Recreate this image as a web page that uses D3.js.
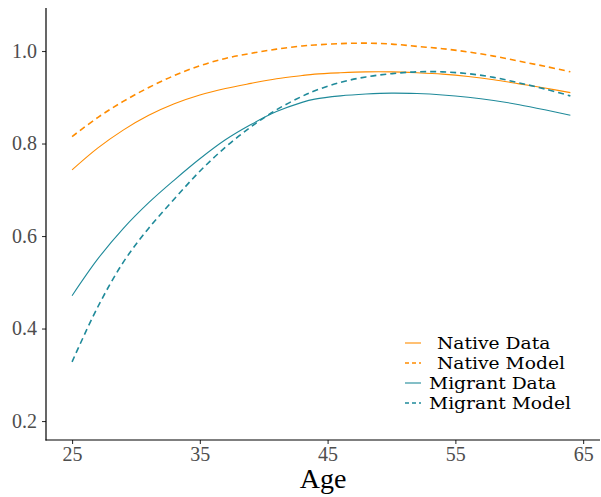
<!DOCTYPE html>
<html><head><meta charset="utf-8">
<script src="https://cdn.jsdelivr.net/npm/d3@7"></script>
<style>body{margin:0;background:#fff}svg{display:block}</style>
</head><body>
<svg id="c" width="601" height="497"></svg>
<script>
const ages = [25, 27, 29, 31, 33, 35, 37, 39, 41, 43, 44, 46, 48, 50, 52, 54, 56, 58, 60, 62, 64];
const nativeData   = [0.743, 0.790, 0.829, 0.861, 0.886, 0.905, 0.919, 0.930, 0.940, 0.947, 0.950, 0.953, 0.955, 0.955, 0.953, 0.950, 0.945, 0.938, 0.929, 0.920, 0.910];
const nativeModel  = [0.815, 0.856, 0.891, 0.921, 0.947, 0.968, 0.984, 0.995, 1.004, 1.011, 1.013, 1.016, 1.017, 1.015, 1.010, 1.005, 0.998, 0.989, 0.978, 0.967, 0.955];
const migrantData  = [0.471, 0.550, 0.616, 0.672, 0.721, 0.767, 0.808, 0.841, 0.869, 0.889, 0.896, 0.903, 0.907, 0.909, 0.908, 0.905, 0.900, 0.893, 0.884, 0.873, 0.861];
const migrantModel = [0.328, 0.446, 0.543, 0.617, 0.680, 0.740, 0.792, 0.836, 0.873, 0.902, 0.914, 0.932, 0.944, 0.951, 0.955, 0.955, 0.951, 0.943, 0.931, 0.918, 0.903];
const xTicks = [25, 35, 45, 55, 65];
const yTicks = [0.2, 0.4, 0.6, 0.8, 1.0];
const seriesNames = ["Native Data", "Native Model", "Migrant Data", "Migrant Model"];

(function () {
const orange = "#FF8C00", teal = "#1F8A9A";
const series = [
  {name: seriesNames[0], values: nativeData,   color: orange, dash: null},
  {name: seriesNames[1], values: nativeModel,  color: orange, dash: "6,4"},
  {name: seriesNames[2], values: migrantData,  color: teal,   dash: null},
  {name: seriesNames[3], values: migrantModel, color: teal,   dash: "6,4"}
];

const svg = d3.select("#c");
const font = "'Liberation Serif', 'DejaVu Serif', serif";
const legFont = "'DejaVu Serif', 'Liberation Serif', serif";
const mL = 46, mR = 600, mT = 8, mB = 440;
const x = d3.scaleLinear().domain([22.96, 66.32]).range([mL, mR]);
const y = d3.scaleLinear().domain([0.159, 1.093]).range([mB, mT]);

const line = d3.line().x(d => x(d[0])).y(d => y(d[1])).curve(d3.curveCatmullRom.alpha(0.5));
series.forEach(s => {
  svg.append("path")
    .datum(ages.map((a, i) => [a, s.values[i]]))
    .attr("d", line)
    .attr("fill", "none")
    .attr("stroke", s.color)
    .attr("stroke-width", s.dash ? 1.6 : 1.1)
    .attr("stroke-dasharray", s.dash);
});

const xAxis = svg.append("g").attr("transform", `translate(0,${mB})`)
  .call(d3.axisBottom(x).tickValues(xTicks).tickSize(4).tickPadding(3).tickFormat(d3.format("d")));
const yAxis = svg.append("g").attr("transform", `translate(${mL},0)`)
  .call(d3.axisLeft(y).tickValues(yTicks).tickSize(4).tickPadding(5).tickFormat(d3.format(".1f")));
[xAxis, yAxis].forEach(g => {
  g.select(".domain").remove();
  g.selectAll(".tick line").attr("stroke", "#333").attr("stroke-width", 1.1);
  g.selectAll(".tick text").attr("fill", "#4d4d4d").style("font-family", font).style("font-size", "20px");
});
svg.append("line").attr("x1", mL).attr("x2", mL).attr("y1", mT).attr("y2", mB + 0.5)
  .attr("stroke", "#000").attr("stroke-width", 1.2);
svg.append("line").attr("x1", mL - 0.5).attr("x2", mR).attr("y1", mB).attr("y2", mB)
  .attr("stroke", "#000").attr("stroke-width", 1.2);

svg.append("text").attr("x", (mL + mR) / 2).attr("y", 488)
  .attr("text-anchor", "middle").style("font-family", font).style("font-size", "28px")
  .attr("fill", "#000").text("Age");

const leg = svg.append("g");
series.forEach((s, i) => {
  const cy = 343 + i * 20;
  leg.append("line").attr("x1", 405).attr("x2", 421).attr("y1", cy).attr("y2", cy)
    .attr("stroke", s.color).attr("stroke-width", s.dash ? 1.6 : 1.1)
    .attr("stroke-dasharray", s.dash ? "4,3" : null);
  const tx = s.name.startsWith("Native") ? 437 : 429;
  leg.append("text").attr("transform", `translate(${tx},${cy + 6}) scale(1.1,1)`)
    .style("font-family", legFont).style("font-size", "17px").attr("fill", "#000").text(s.name);
});
})();
</script>
</body></html>
